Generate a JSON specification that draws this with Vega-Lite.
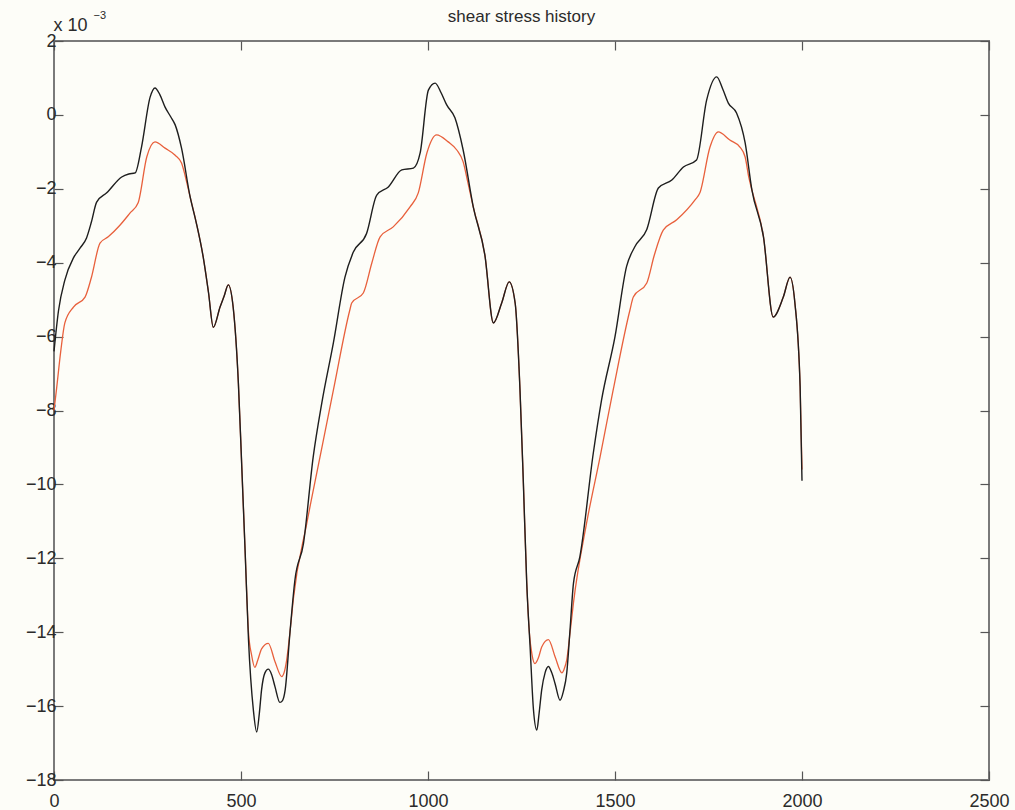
{
  "$schema": "https://vega.github.io/schema/vega-lite/v6.json",
  "width": 935,
  "height": 739,
  "autosize": {"type": "none"},
  "padding": {"left": 54, "top": 41, "right": 26, "bottom": 30},
  "background": "#fdfdf8",
  "title": {"text": "shear stress history", "fontSize": 17, "fontWeight": "normal", "color": "#2b2b2b", "font": "Liberation Sans", "offset": 0, "dy": 17, "anchor": "middle", "frame": "group"},
  "config": {
    "view": {"stroke": "#7a7a7a", "strokeWidth": 2, "fill": "#fdfdf8"},
    "axis": {"domain": false, "grid": false, "tickColor": "#555555", "tickSize": -9, "tickWidth": 1.2, "labelFont": "Liberation Sans", "labelFontSize": 18, "labelColor": "#2b2b2b", "titleFont": "Liberation Sans", "titleColor": "#2b2b2b", "titleFontWeight": "normal"}
  },
  "datasets": {
    "black": [
      {"x":0,"y":-6.4},{"x":12,"y":-5.3},{"x":29,"y":-4.47},{"x":52,"y":-3.87},{"x":70,"y":-3.6},{"x":87,"y":-3.33},{"x":100,"y":-2.9},{"x":114,"y":-2.36},{"x":141,"y":-2.11},{"x":181,"y":-1.68},{"x":200,"y":-1.6},{"x":217,"y":-1.57},{"x":234,"y":-0.87},{"x":257,"y":0.48},{"x":270,"y":0.73},{"x":283,"y":0.55},{"x":297,"y":0.21},{"x":312,"y":-0.05},{"x":324,"y":-0.27},{"x":341,"y":-0.9},{"x":364,"y":-2.22},{"x":380,"y":-2.9},{"x":399,"y":-3.85},{"x":413,"y":-4.8},{"x":426,"y":-5.75},{"x":444,"y":-5.2},{"x":455,"y":-4.9},{"x":466,"y":-4.6},{"x":479,"y":-5.2},{"x":493,"y":-7.26},{"x":502,"y":-9.5},{"x":511,"y":-11.8},{"x":520,"y":-14.2},{"x":533,"y":-16.1},{"x":542,"y":-16.7},{"x":549,"y":-16.2},{"x":555,"y":-15.56},{"x":564,"y":-15.1},{"x":573,"y":-15.0},{"x":582,"y":-15.15},{"x":591,"y":-15.48},{"x":604,"y":-15.9},{"x":611,"y":-15.85},{"x":618,"y":-15.57},{"x":631,"y":-14.0},{"x":644,"y":-12.6},{"x":667,"y":-11.6},{"x":693,"y":-9.26},{"x":716,"y":-7.8},{"x":747,"y":-6.17},{"x":778,"y":-4.39},{"x":800,"y":-3.72},{"x":836,"y":-3.2},{"x":863,"y":-2.17},{"x":894,"y":-1.95},{"x":930,"y":-1.49},{"x":961,"y":-1.44},{"x":979,"y":-1.03},{"x":1001,"y":0.67},{"x":1019,"y":0.86},{"x":1035,"y":0.6},{"x":1050,"y":0.27},{"x":1072,"y":-0.08},{"x":1094,"y":-0.95},{"x":1121,"y":-2.49},{"x":1152,"y":-3.79},{"x":1175,"y":-5.63},{"x":1197,"y":-5.09},{"x":1217,"y":-4.52},{"x":1233,"y":-5.09},{"x":1246,"y":-7.45},{"x":1255,"y":-9.96},{"x":1264,"y":-12.67},{"x":1273,"y":-14.4},{"x":1282,"y":-16.1},{"x":1291,"y":-16.65},{"x":1297,"y":-16.2},{"x":1304,"y":-15.56},{"x":1313,"y":-15.1},{"x":1322,"y":-14.93},{"x":1331,"y":-15.1},{"x":1340,"y":-15.4},{"x":1353,"y":-15.84},{"x":1362,"y":-15.6},{"x":1371,"y":-15.1},{"x":1380,"y":-13.9},{"x":1389,"y":-12.67},{"x":1406,"y":-11.96},{"x":1442,"y":-9.15},{"x":1464,"y":-7.72},{"x":1500,"y":-6.0},{"x":1531,"y":-4.1},{"x":1553,"y":-3.57},{"x":1585,"y":-3.1},{"x":1616,"y":-1.98},{"x":1652,"y":-1.76},{"x":1683,"y":-1.41},{"x":1718,"y":-1.22},{"x":1745,"y":0.4},{"x":1772,"y":1.03},{"x":1788,"y":0.7},{"x":1803,"y":0.32},{"x":1825,"y":0.05},{"x":1848,"y":-0.76},{"x":1866,"y":-2.03},{"x":1897,"y":-3.3},{"x":1923,"y":-5.47},{"x":1950,"y":-4.93},{"x":1968,"y":-4.39},{"x":1981,"y":-5.09},{"x":1995,"y":-7.36},{"x":2000,"y":-9.9}
    ],
    "red": [
      {"x":0,"y":-8.0},{"x":7,"y":-7.4},{"x":18,"y":-6.4},{"x":29,"y":-5.63},{"x":52,"y":-5.2},{"x":83,"y":-4.93},{"x":100,"y":-4.4},{"x":123,"y":-3.47},{"x":145,"y":-3.3},{"x":175,"y":-3.0},{"x":203,"y":-2.66},{"x":225,"y":-2.38},{"x":248,"y":-1.14},{"x":270,"y":-0.73},{"x":297,"y":-0.9},{"x":324,"y":-1.09},{"x":341,"y":-1.3},{"x":352,"y":-1.7},{"x":364,"y":-2.22},{"x":380,"y":-2.9},{"x":399,"y":-3.85},{"x":413,"y":-4.8},{"x":426,"y":-5.75},{"x":444,"y":-5.2},{"x":455,"y":-4.9},{"x":466,"y":-4.6},{"x":479,"y":-5.2},{"x":493,"y":-7.26},{"x":502,"y":-9.5},{"x":511,"y":-11.8},{"x":520,"y":-14.0},{"x":528,"y":-14.6},{"x":537,"y":-14.95},{"x":545,"y":-14.75},{"x":555,"y":-14.45},{"x":573,"y":-14.3},{"x":591,"y":-14.8},{"x":609,"y":-15.2},{"x":615,"y":-15.1},{"x":622,"y":-14.76},{"x":632,"y":-13.9},{"x":640,"y":-13.1},{"x":676,"y":-11.05},{"x":711,"y":-9.27},{"x":747,"y":-7.45},{"x":791,"y":-5.28},{"x":796,"y":-5.09},{"x":827,"y":-4.82},{"x":850,"y":-4.0},{"x":872,"y":-3.3},{"x":907,"y":-3.03},{"x":952,"y":-2.49},{"x":974,"y":-2.11},{"x":997,"y":-1.03},{"x":1023,"y":-0.54},{"x":1054,"y":-0.73},{"x":1077,"y":-0.95},{"x":1094,"y":-1.27},{"x":1106,"y":-1.8},{"x":1121,"y":-2.49},{"x":1152,"y":-3.79},{"x":1175,"y":-5.63},{"x":1197,"y":-5.09},{"x":1217,"y":-4.52},{"x":1233,"y":-5.09},{"x":1246,"y":-7.45},{"x":1255,"y":-9.96},{"x":1264,"y":-12.67},{"x":1271,"y":-14.0},{"x":1278,"y":-14.6},{"x":1286,"y":-14.85},{"x":1295,"y":-14.7},{"x":1304,"y":-14.4},{"x":1322,"y":-14.2},{"x":1340,"y":-14.67},{"x":1358,"y":-15.1},{"x":1364,"y":-15.0},{"x":1371,"y":-14.75},{"x":1380,"y":-14.0},{"x":1389,"y":-13.2},{"x":1424,"y":-11.05},{"x":1460,"y":-9.26},{"x":1495,"y":-7.45},{"x":1540,"y":-5.28},{"x":1549,"y":-4.93},{"x":1585,"y":-4.55},{"x":1605,"y":-3.8},{"x":1629,"y":-3.12},{"x":1665,"y":-2.84},{"x":1714,"y":-2.3},{"x":1727,"y":-2.11},{"x":1754,"y":-0.87},{"x":1776,"y":-0.46},{"x":1807,"y":-0.68},{"x":1834,"y":-0.87},{"x":1848,"y":-1.14},{"x":1858,"y":-1.7},{"x":1866,"y":-2.03},{"x":1897,"y":-3.3},{"x":1923,"y":-5.47},{"x":1950,"y":-4.93},{"x":1968,"y":-4.39},{"x":1981,"y":-5.09},{"x":1995,"y":-7.36},{"x":2000,"y":-9.6}
    ]
  },
  "layer": [
    {
      "data": {"name": "red"},
      "mark": {"type": "line", "color": "#e8603c", "strokeWidth": 1.3, "interpolate": "monotone"},
      "encoding": {
        "x": {"field": "x", "type": "quantitative", "scale": {"domain": [0, 2500], "nice": false, "zero": false},
              "axis": {"orient": "bottom", "values": [0, 500, 1000, 1500, 2000, 2500], "format": "d", "title": null, "labelFlush": false, "labelPadding": 21}},
        "y": {"field": "y", "type": "quantitative", "scale": {"domain": [-18, 2], "nice": false, "zero": false},
              "axis": {"orient": "left", "values": [-18, -16, -14, -12, -10, -8, -6, -4, -2, 0, 2], "labelPadding": 7, "title": "x 10", "titleAngle": 0, "titleX": -1, "titleY": -16, "titleAlign": "left", "titleBaseline": "middle", "titleFontSize": 18}}
      }
    },
    {
      "data": {"name": "black"},
      "mark": {"type": "line", "color": "#1e1e1e", "strokeWidth": 1.4, "interpolate": "monotone"},
      "encoding": {
        "x": {"field": "x", "type": "quantitative", "scale": {"domain": [0, 2500], "nice": false, "zero": false},
              "axis": {"orient": "top", "values": [0, 500, 1000, 1500, 2000, 2500], "labels": false, "title": null}},
        "y": {"field": "y", "type": "quantitative", "scale": {"domain": [-18, 2], "nice": false, "zero": false},
              "axis": {"orient": "right", "values": [-18, -16, -14, -12, -10, -8, -6, -4, -2, 0, 2], "labels": false, "title": "−3", "titleAngle": 0, "titleX": -896, "titleY": -26, "titleAlign": "left", "titleBaseline": "middle", "titleFontSize": 11}}
      }
    }
  ],
  "resolve": {"axis": {"x": "independent", "y": "independent"}}
}
